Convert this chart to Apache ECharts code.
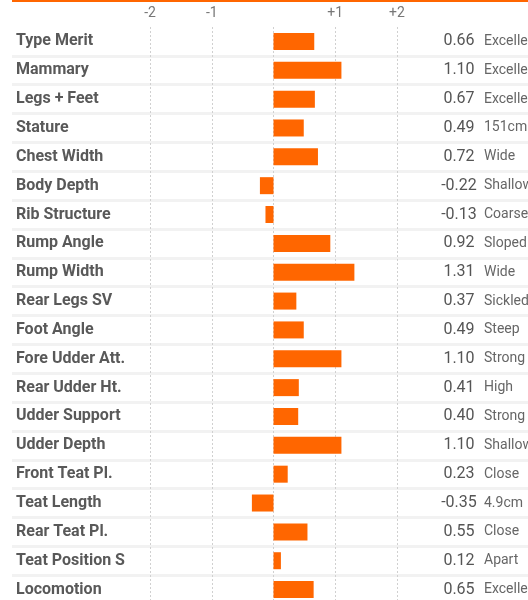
<!DOCTYPE html>
<html>
<head>
<meta charset="utf-8">
<script src="https://cdn.jsdelivr.net/npm/echarts@6/dist/echarts.min.js"></script>
<style>
  html, body { margin: 0; padding: 0; background: #fff; }
  #main { width: 528px; height: 600px; }
</style>
</head>
<body>
<div id="main"></div>
<script>
var traits = ['Type Merit', 'Mammary', 'Legs + Feet', 'Stature', 'Chest Width', 'Body Depth',
  'Rib Structure', 'Rump Angle', 'Rump Width', 'Rear Legs SV', 'Foot Angle', 'Fore Udder Att.',
  'Rear Udder Ht.', 'Udder Support', 'Udder Depth', 'Front Teat Pl.', 'Teat Length',
  'Rear Teat Pl.', 'Teat Position S', 'Locomotion'];
var scores = [0.66, 1.10, 0.67, 0.49, 0.72, -0.22, -0.13, 0.92, 1.31, 0.37, 0.49, 1.10,
  0.41, 0.40, 1.10, 0.23, -0.35, 0.55, 0.12, 0.65];
var notes = ['Excellent', 'Excellent', 'Excellent', '151cm', 'Wide', 'Shallow', 'Coarse',
  'Sloped', 'Wide', 'Sickled', 'Steep', 'Strong', 'High', 'Strong', 'Shallow', 'Close',
  '4.9cm', 'Close', 'Apart', 'Excellent'];
var ticks = [-2, -1, 0, 1, 2];

(function(){
  var font = "Roboto, 'Noto Sans', sans-serif";
  var myChart = echarts.init(document.getElementById('main'));
  var option = {
    animation: false,
    graphic: [{
      type: 'rect',
      shape: { x: 12, y: 0, width: 516, height: 2 },
      style: { fill: '#ff6600' }
    }],
    grid: [
      { left: 150, right: 131, top: 27, bottom: -4, outerBoundsMode: 'none' },
      { left: 12, right: 0, top: 27, bottom: -4, outerBoundsMode: 'none' }
    ],
    xAxis: [
      {
        gridIndex: 0,
        type: 'value',
        position: 'top',
        min: ticks[0],
        max: ticks[ticks.length - 1],
        interval: 1,
        axisLine: { show: false },
        axisTick: { show: false },
        axisLabel: {
          margin: 7,
          fontSize: 14,
          color: '#777',
          fontFamily: font,
          formatter: function (v) { return v === 0 ? '' : (v > 0 ? '+' + v : '' + v); }
        },
        splitLine: { show: true, lineStyle: { color: '#d0d0d0', type: [2, 2], width: 1 } }
      },
      { gridIndex: 1, type: 'value', show: false, min: 0, max: 1 }
    ],
    yAxis: [
      {
        gridIndex: 0,
        type: 'category',
        data: traits,
        inverse: true,
        axisLine: { show: false },
        axisTick: { show: false },
        axisLabel: {
          align: 'left',
          margin: 134,
          fontSize: 16,
          fontWeight: 'bold',
          color: '#595959',
          fontFamily: font
        }
      },
      {
        gridIndex: 0,
        type: 'category',
        data: traits,
        inverse: true,
        position: 'right',
        axisLine: { show: false },
        axisTick: { show: false },
        axisLabel: {
          align: 'left',
          margin: 42,
          formatter: function (v, i) {
            var s = scores[i].toFixed(2);
            return '{v|' + s + '}{d|' + notes[i] + '}';
          },
          rich: {
            v: { width: 40, align: 'right', fontSize: 16, color: '#555', fontFamily: font },
            d: { fontSize: 14, color: '#666', fontFamily: font, padding: [0, 0, 0, 5] }
          }
        }
      },
      {
        gridIndex: 1,
        type: 'category',
        data: traits,
        inverse: true,
        axisLine: { show: false },
        axisTick: { show: false },
        axisLabel: { show: false },
        splitLine: { show: true, showMinLine: false, lineStyle: { color: '#f2f2f2', width: 3 } }
      }
    ],
    series: [
      {
        type: 'bar',
        xAxisIndex: 0,
        yAxisIndex: 0,
        data: scores,
        barWidth: 17,
        z: 3,
        itemStyle: { color: '#ff6600' }
      }
    ]
  };
  myChart.setOption(option);
})();
</script>
</body>
</html>
